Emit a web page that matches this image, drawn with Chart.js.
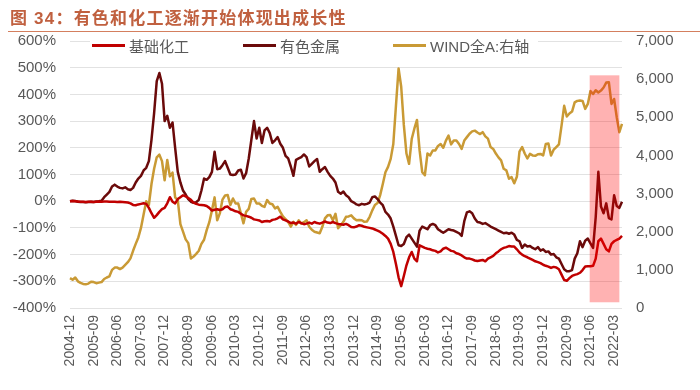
<!DOCTYPE html>
<html>
<head>
<meta charset="utf-8">
<script src="https://cdn.jsdelivr.net/npm/chart.js@4.4.1/dist/chart.umd.min.js"></script>
<style>
html,body{margin:0;padding:0;background:#fff;}
#wrap{position:relative;width:700px;height:390px;overflow:hidden;}
canvas{position:absolute;left:0;top:0;}
#title{position:absolute;left:10px;top:8px;font:bold 17px "Liberation Sans","Noto Sans CJK SC",sans-serif;color:#C0603F;letter-spacing:1.2px;white-space:nowrap;line-height:22px;}
#rule{position:absolute;left:8px;right:0;top:31px;height:0;border-top:1.5px solid #D47F5E;}
#legendBox{position:absolute;left:90px;top:36px;width:448px;height:18px;background:#fff;}
.li{position:absolute;top:36px;height:18px;display:flex;align-items:center;font:15px "Liberation Sans","Noto Sans CJK SC",sans-serif;color:#595959;white-space:nowrap;}
.sw{width:33px;height:3px;margin-right:4px;}
</style>
</head>
<body>
<div id="wrap">
<canvas id="c" width="700" height="390"></canvas>
<div id="title">图 34：有色和化工逐渐开始体现出成长性</div>
<div id="rule"></div>
<div id="legendBox"></div>
<div id="legend"></div>
</div>
<script>
// ---- data ----
const seriesNames = ['基础化工', '有色金属', 'WIND全A:右轴'];
const startYear = 2004, startMonth = 12;
const tickLabels = ['2004-12','2005-09','2006-06','2007-03','2007-12','2008-09','2009-06','2010-03','2010-12','2011-09','2012-06','2013-03','2013-12','2014-09','2015-06','2016-03','2016-12','2017-09','2018-06','2019-03','2019-12','2020-09','2021-06','2022-03'];

// 基础化工 (%), left axis
const chem = [
 0, 1, 0, -1, -2, -2, -3, -2, -2, -3,
 -2, -1, -2, -1, -1, -2, -2, -2, -3, -2,
 -3, -4, -5, -8, -14, -15, -12, -10, -8, -10,
 -25, -45, -62, -52, -40, -30, -25, -8, 15, -2,
 -8, 8, 15, 22, 18, 12, 5, -5, -10, -13,
 -14, -15, -18, -25, -35, -32, -30, -33, -30, -22,
 -20, -30, -33, -38, -40, -47, -53, -55, -58, -62,
 -68, -70, -72, -78, -75, -74, -76, -70, -68, -64,
 -58, -68, -72, -76, -82, -80, -84, -78, -82, -86,
 -84, -80, -84, -78, -82, -84, -80, -76, -80, -82,
 -78, -82, -85, -86, -88, -85, -90, -97, -98, -95,
 -90, -92, -96, -98, -100, -102, -106, -110, -115, -122,
 -130, -140, -160, -190, -235, -285, -318, -280, -240, -210,
 -190, -215, -225, -165, -170, -175, -178, -180, -184, -186,
 -192, -188, -178, -174, -180, -186, -188, -195, -198, -203,
 -210, -215, -215, -218, -222, -224, -222, -220, -225, -215,
 -210, -205, -195, -188, -180, -175, -172, -168, -170, -170,
 -180, -192, -200, -206, -210, -215, -220, -225, -228, -232,
 -238, -242, -245, -250, -246, -248, -255, -275, -295, -298,
 -288, -280, -276, -273, -268, -258, -245, -244, -244, -242,
 -215, -150, -140, -160, -180, -188, -160, -150, -145, -140, -130
];

// 有色金属 (%), left axis
const metal = [
 0, 2, 1, -2, -3, -3, -4, -3, -2, -3,
 -1, 0, 2, 15, 25, 35, 55, 62, 55, 50,
 48, 52, 45, 42, 50, 70, 85, 95, 115, 125,
 150, 230, 330, 450, 480, 440, 300, 320, 275, 295,
 200, 110, 70, 40, 25, 8, -2, -6, -4, 5,
 40, 85, 80, 90, 110, 185, 120, 122, 135, 150,
 125, 100, 98, 100, 115, 118, 85, 105, 160, 230,
 300, 235, 275, 218, 265, 275, 255, 218, 228, 240,
 215, 200, 170, 160, 130, 95, 155, 160, 165, 175,
 165, 130, 140, 150, 158, 110, 120, 128, 110, 95,
 85, 70, 35, 28, 36, 22, 15, 0, -5, -12,
 -15, -10, -12, -10, -5, 15, 18, 8, -5, -15,
 -40, -50, -65, -95, -130, -165, -168, -160, -135, -125,
 -140, -155, -170, -110, -95, -100, -105, -90, -85, -90,
 -105, -112, -118, -112, -105, -108, -110, -115, -120, -130,
 -75, -42, -38, -45, -65, -78, -80, -85, -82, -88,
 -95, -100, -105, -110, -115, -120, -118, -122, -118, -125,
 -145, -150, -175, -162, -170, -168, -175, -180, -172, -185,
 -180, -190, -188, -200, -198, -210, -215, -235, -255, -262,
 -262, -258, -215, -195, -150, -172, -148, -140, -158, -175,
 -60, 110, -20, -45, -8, -63, -68, 22, -18, -25, -2
];

// WIND全A (points), right axis
const windA = [
 783, 740, 800, 700, 660, 630, 620, 640, 690, 680,
 650, 665, 680, 760, 800, 830, 1000, 1060, 1060, 1020,
 1060, 1130, 1200, 1300, 1500, 1680, 1850, 2100, 2450, 2800,
 2700, 3250, 3650, 3950, 4020, 3850, 3350, 3880, 3450, 3550,
 2900, 2830, 2200, 2000, 1800, 1700, 1300, 1350, 1420, 1500,
 1680, 1790, 2040, 2250, 2560, 2900, 2300, 2480, 2840, 2950,
 2960, 2700, 2870, 2740, 2740, 2480, 2220, 2520, 2600, 2860,
 2870, 2740, 2740, 2680, 2650, 2830, 2740, 2720, 2610, 2650,
 2520, 2400, 2330, 2260, 2130, 2260, 2180, 2300, 2210, 2250,
 2300, 2130, 2050, 2000, 1980, 1960, 2130, 2350, 2430, 2440,
 2300, 2470, 2090, 2170, 2260, 2390, 2400, 2430, 2350, 2300,
 2310, 2300, 2260, 2270, 2390, 2560, 2700, 2750, 2960, 3250,
 3560, 3700, 3910, 4300, 5300, 6280, 5800, 4800, 4050, 3780,
 4430, 4700, 4930, 4130, 3560, 3480, 4050, 4000, 4130, 4130,
 4250, 4300, 4200, 4390, 4520, 4290, 4390, 4390, 4300, 4170,
 4390, 4480, 4570, 4630, 4650, 4600, 4560, 4610, 4500, 4440,
 4220, 4170, 4050, 3950, 3870, 3650, 3610, 3390, 3430, 3270,
 3440, 4100, 4220, 4050, 3920, 4040, 4000, 3990, 4030, 4040,
 4000, 4300, 4310, 4000, 4150, 4220, 4290, 4780, 5300, 5020,
 5100, 5150, 5390, 5430, 5440, 5430, 5220, 5350, 5690, 5610,
 5710, 5650, 5700, 5780, 5910, 5920, 5350, 5480, 5000, 4610, 4830
];

// highlighted period (category index range) and right-axis value range
const highlightFrom = 197.7, highlightTo = 209.0;
const highlightLow = 150, highlightHigh = 6100;

const colors = ['#C00000', '#6B0A0A', '#C99A35'];

// ---- build category labels ----
const months = [];
{
  let y = startYear, m = startMonth;
  for (let i = 0; i < chem.length; i++) {
    months.push(y + '-' + String(m).padStart(2, '0'));
    m++; if (m > 12) { m = 1; y++; }
  }
}

// ---- legend (HTML) ----
const legendX = [92, 243, 393];
const legendEl = document.getElementById('legend');
seriesNames.forEach((n, k) => {
  const d = document.createElement('div');
  d.className = 'li';
  d.style.left = legendX[k] + 'px';
  const sw = document.createElement('span');
  sw.className = 'sw'; sw.style.background = colors[k];
  const t = document.createElement('span');
  t.textContent = n;
  d.appendChild(sw); d.appendChild(t);
  legendEl.appendChild(d);
});

const highlightPlugin = {
  id: 'highlight',
  afterDatasetsDraw(chart) {
    const x = chart.scales.x, yr = chart.scales.y1, ctx = chart.ctx;
    const x0 = x.getPixelForValue(highlightFrom), x1 = x.getPixelForValue(highlightTo);
    const y0 = yr.getPixelForValue(highlightHigh), y1 = yr.getPixelForValue(highlightLow);
    ctx.save();
    ctx.fillStyle = 'rgba(255,0,0,0.3)';
    ctx.fillRect(x0, y0, x1 - x0, y1 - y0);
    ctx.restore();
  }
};

const tickFont = { family: 'Liberation Sans', size: 15 };
new Chart(document.getElementById('c'), {
  type: 'line',
  data: {
    labels: months,
    datasets: [
      { label: seriesNames[0], data: chem, borderColor: colors[0], yAxisID: 'y' },
      { label: seriesNames[1], data: metal, borderColor: colors[1], yAxisID: 'y' },
      { label: seriesNames[2], data: windA, borderColor: colors[2], yAxisID: 'y1' }
    ]
  },
  options: {
    responsive: false,
    animation: false,
    devicePixelRatio: 1,
    layout: { padding: { top: 41, left: 0, right: 0, bottom: 0 } },
    elements: { point: { radius: 0 }, line: { borderWidth: 2.5, tension: 0, borderJoinStyle: 'round' } },
    plugins: { legend: { display: false }, tooltip: { enabled: false } },
    scales: {
      x: {
        grid: { display: false, drawTicks: false },
        border: { display: false },
        ticks: {
          autoSkip: false, maxRotation: 90, minRotation: 90, padding: 7,
          font: { family: 'Liberation Sans', size: 14 }, color: '#595959',
          callback: (v, i) => tickLabels.includes(months[i]) ? months[i] : ''
        },
        afterFit(s) { s.height = 82; }
      },
      y: {
        position: 'left', min: -400, max: 600,
        grid: { color: '#E2E2E2', lineWidth: 1, drawTicks: false },
        border: { display: false },
        ticks: { stepSize: 100, padding: 14, font: tickFont, color: '#595959', callback: v => v + '%' },
        afterFit(s) { s.width = 70; }
      },
      y1: {
        position: 'right', min: 0, max: 7000,
        grid: { display: false, drawTicks: false },
        border: { display: false },
        ticks: { stepSize: 1000, padding: 14, font: tickFont, color: '#595959', callback: v => v.toLocaleString('en-US') },
        afterFit(s) { s.width = 78; }
      }
    }
  },
  plugins: [highlightPlugin]
});
</script>
</body>
</html>
